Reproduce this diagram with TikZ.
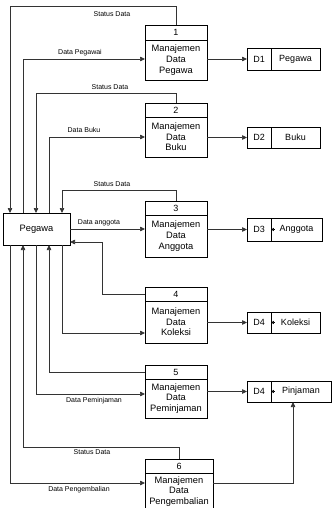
\documentclass[tikz,border=0pt]{standalone}
\usepackage{fontspec}
\setmainfont{Liberation Sans}
\usetikzlibrary{arrows.meta,positioning}

\tikzset{
  wire/.style={draw=black!80, line width=0.7pt},
  flow/.style={wire, -{Triangle[length=5pt,width=4.5pt]}},
  tinytip/.style={line width=0.4pt, -{Triangle[length=2.8pt,width=3pt]}},
  numbox/.style={draw, line width=0.6pt, outer sep=0pt, inner sep=0pt,
    minimum width=62pt, minimum height=14pt, font=\fontsize{9}{10}\selectfont},
  procbox/.style={draw, line width=0.6pt, outer sep=0pt, inner sep=1pt,
    minimum width=62pt, minimum height=41pt, align=center,
    font=\fontsize{9.3}{10.6}\selectfont},
  entity/.style={draw, line width=0.6pt, outer sep=0pt,
    minimum width=67pt, minimum height=32pt, font=\fontsize{9.3}{11}\selectfont},
  idbox/.style={draw, line width=0.6pt, outer sep=0pt, inner sep=0pt,
    minimum width=24pt, minimum height=22pt, font=\fontsize{9}{10}\selectfont},
  namebox/.style={draw, line width=0.6pt, outer sep=0pt, inner sep=0pt,
    minimum width=49pt, minimum height=22pt, font=\fontsize{9}{10}\selectfont},
  lbl/.style={inner sep=0pt, font=\fontsize{7}{8}\selectfont}
}

\begin{document}
\begin{tikzpicture}[x=1pt, y=-1pt]
  \useasboundingbox (0,0) rectangle (332,508);

  % external entity
  \node (pegawa) [entity] at (36.5,229) {Pegawa};

  % processes
  \node (p1h) [numbox, anchor=north, minimum height=15pt] at (176,25) {1};
  \node (p1) [procbox, below=0pt of p1h, minimum height=40pt] {Manajemen\\Data\\Pegawa};
  \node (p2h) [numbox, anchor=north] at (176,103) {2};
  \node (p2) [procbox, below=0pt of p2h, minimum height=40pt] {Manajemen\\Data\\Buku};
  \node (p3h) [numbox, anchor=north] at (176,201) {3};
  \node (p3) [procbox, below=0pt of p3h, minimum height=42pt] {Manajemen\\Data\\Anggota};
  \node (p4h) [numbox, anchor=north] at (176,287) {4};
  \node (p4) [procbox, below=0pt of p4h, minimum height=42pt] {Manajemen\\Data\\Koleksi};
  \node (p5h) [numbox, anchor=north] at (176,365) {5};
  \node (p5) [procbox, below=0pt of p5h, minimum height=39pt] {Manajemen\\Data\\Peminjaman};
  \node (p6h) [numbox, anchor=north, minimum width=68pt] at (179,459) {6};
  \node (p6) [procbox, below=0pt of p6h, minimum width=68pt, minimum height=37pt,
    font=\fontsize{9.3}{10.3}\selectfont] {Manajemen\\Data\\Pengembalian};

  % data stores
  \node (d1id) [idbox, anchor=west] at (247,59) {D1};
  \node (d1) [namebox, right=0pt of d1id] {Pegawa};
  \node (d2id) [idbox, anchor=west, minimum height=21pt] at (247,137.5) {D2};
  \node (d2) [namebox, right=0pt of d2id, minimum height=21pt] {Buku};
  \node (d3id) [idbox, anchor=west, minimum height=23pt] at (247,229.5) {D3};
  \node (d3) [namebox, right=0pt of d3id, minimum height=23pt, minimum width=51pt] {Anggota};
  \node (d4id) [idbox, anchor=west, minimum height=21pt] at (247,322.5) {D4};
  \node (d4) [namebox, right=0pt of d4id, minimum height=21pt] {Koleksi};
  \node (d5id) [idbox, anchor=west, minimum height=21pt] at (247,391.5) {D4};
  \node (d5) [namebox, right=0pt of d5id, minimum height=21pt, minimum width=60pt] {Pinjaman};

  \draw [tinytip] ([xshift=3.5pt]d3.west) -- (d3.west);
  \draw [tinytip] ([xshift=3.5pt]d4.west) -- (d4.west);
  \draw [tinytip] ([xshift=3.5pt]d5.west) -- (d5.west);

  % flows above the entity
  \draw [flow] (p1h.north) -- ++(0,-19) -| ([xshift=7pt]pegawa.north west);
  \draw [flow] ([xshift=20pt]pegawa.north west) |- ([yshift=1pt]p1.west);
  \draw [flow] (p2h.north) -- ++(0,-10) -| ([xshift=33pt]pegawa.north west);
  \draw [flow] ([xshift=46pt]pegawa.north west) |- (p2.west);
  \draw [flow] (p3h.north) -- ++(0,-11) -| ([xshift=59pt]pegawa.north west);
  \draw [flow] (pegawa.east) -- (pegawa.east -| p3.west);
  \draw [flow] (p4h.west) -- ++(-43,0) |- ([yshift=-13pt]pegawa.east);

  % flows below the entity
  \draw [flow] ([xshift=59pt]pegawa.south west) |- ([yshift=-11pt]p4.west);
  \draw [flow] (p5h.west) -| ([xshift=46pt]pegawa.south west);
  \draw [flow] ([xshift=33pt]pegawa.south west) |- ([yshift=4.5pt]p5.west);
  \draw [flow] (p6h.north) -- ++(0,-12) -| ([xshift=20pt]pegawa.south west);
  \draw [flow] ([xshift=7pt]pegawa.south west) |- ([yshift=-10pt]p6.north west);

  % flows to the data stores
  \draw [flow] (p1.east |- d1id.west) -- (d1id.west);
  \draw [flow] (p2.east |- d2id.west) -- (d2id.west);
  \draw [flow] (p3.east |- d3id.west) -- (d3id.west);
  \draw [flow] (p4.east |- d4id.west) -- (d4id.west);
  \draw [flow] (p5.east |- d5id.west) -- (d5id.west);
  \draw [flow] ([yshift=-10pt]p6.north east) -| ([xshift=-8pt]d5.south);

  % labels
  \node (s1) [lbl] at (112,14) {Status Data};
  \node (l1) [lbl] at (80,53) {Data Pegawai};
  \node (s2) [lbl] at (110,87) {Status Data};
  \node (l2) [lbl] at (84,130) {Data Buku};
  \node (s3) [lbl] at (112,184) {Status Data};
  \node (l3) [lbl] at (99,223) {Data anggota};
  \node (l5) [lbl] at (94,401) {Data Peminjaman};
  \node (s6) [lbl] at (92,452) {Status Data};
  \node (l6) [lbl] at (79,490) {Data Pengembalian};
\end{tikzpicture}
\end{document}
